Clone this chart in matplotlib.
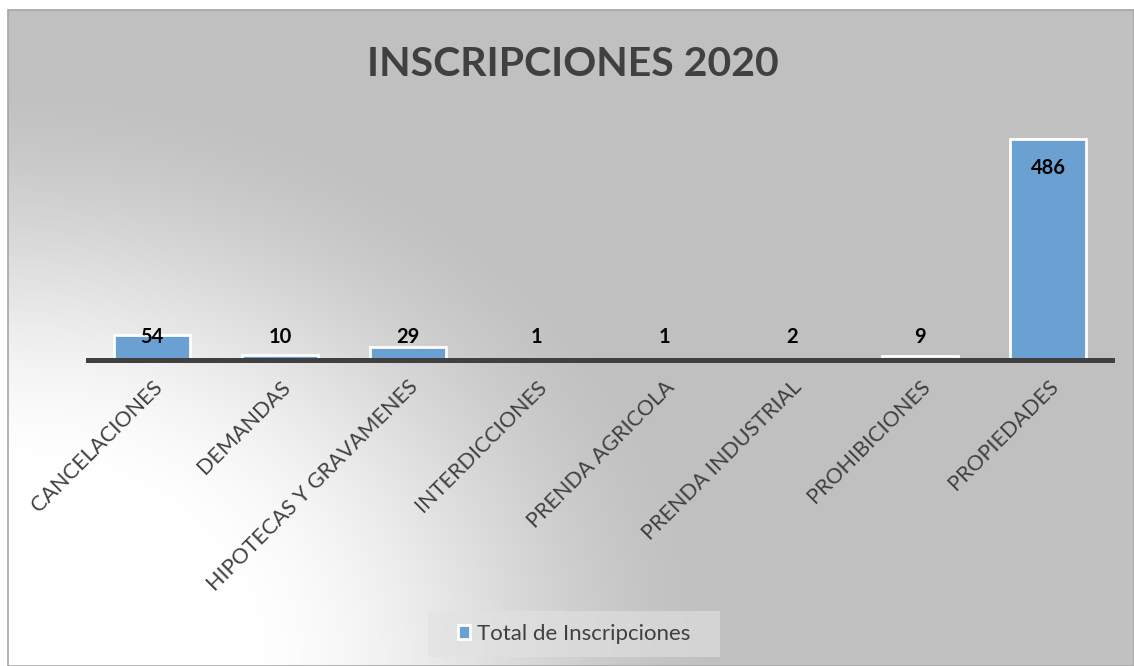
import numpy as np
import matplotlib.pyplot as plt
from matplotlib.patches import Rectangle

categorias = ["CANCELACIONES", "DEMANDAS", "HIPOTECAS Y GRAVAMENES", "INTERDICCIONES",
              "PRENDA AGRICOLA", "PRENDA INDUSTRIAL", "PROHIBICIONES", "PROPIEDADES"]
totales = [54, 10, 29, 1, 1, 2, 9, 486]
serie = "Total de Inscripciones"
titulo = "INSCRIPCIONES 2020"

plt.rcParams['font.family'] = ['Lato', 'DejaVu Sans']

W, H = 1134, 666
fig = plt.figure(figsize=(W / 100, H / 100), dpi=100)
fig.patch.set_facecolor("white")

# radial gradient from the bottom-left corner of the chart area
bg = fig.add_axes([8 / W, 0, 1 - 8 / W, (H - 10) / H])
bg.axis("off")
yy, xx = np.mgrid[10:H, 8:W]
u = (xx - 8) / (W - 8)
v = (H - yy) / (H - 10) * 0.7
d = np.hypot(u, v)
k = np.clip((d - 0.2) / 0.45, 0, 1)
t = 3 * k ** 2 - 2 * k ** 3
g = 1.0 - 0.247 * t
bg.imshow(np.dstack([g, g, g]), extent=[0, 1, 0, 1], aspect="auto", origin="upper")
fig.patches.append(Rectangle((8 / W, 0), 1 - 8 / W, (H - 10) / H, transform=fig.transFigure,
                             fill=False, edgecolor="#A6A6A6", linewidth=1.2))

px_per_unit = 221 / 486
ax_top_px, ax_bot_px = 100, 360
ax = fig.add_axes([88 / W, (H - ax_bot_px) / H, 1024 / W, (ax_bot_px - ax_top_px) / H])
ax.set_facecolor("none")
x = np.arange(len(categorias))
ax.bar(x, totales, width=0.6, color="#6BA1D2", edgecolor="white", linewidth=2, label=serie)
ax.set_xlim(-0.5, len(categorias) - 0.5)
ax.set_ylim(0, (ax_bot_px - ax_top_px) / px_per_unit)

for s_ in ["top", "left", "right"]:
    ax.spines[s_].set_visible(False)
ax.spines["bottom"].set_color("#404040")
ax.spines["bottom"].set_linewidth(3.6)
ax.set_yticks([])
ax.set_xticks(x, categorias, rotation=45, ha="right", rotation_mode="anchor",
              fontsize=15.5, color="#404040")
ax.tick_params(axis="x", length=0, pad=12)

for xi, v_ in zip(x, totales):
    ax.text(xi, max(v_ - 64, 50), str(v_), ha="center", va="center",
            fontsize=14.5, fontweight="bold", color="black")

fig.text(573 / W, 1 - 64 / H, titulo, ha="center", va="center",
         fontsize=29.5, fontweight="bold", color="#404040")

# legend box
fig.patches.append(Rectangle((428 / W, 1 - 657 / H), 292 / W, 46 / H, transform=fig.transFigure,
                             facecolor="#E2E2E2", alpha=0.6, edgecolor="none"))
leg = fig.legend(loc="center", bbox_to_anchor=(574 / W, 1 - 634 / H), fontsize=16,
                 handlelength=0.55, handleheight=0.55, handletextpad=0.3,
                 frameon=False)
for t_ in leg.get_texts():
    t_.set_color("#404040")

fig.savefig("out.png", dpi=100)
